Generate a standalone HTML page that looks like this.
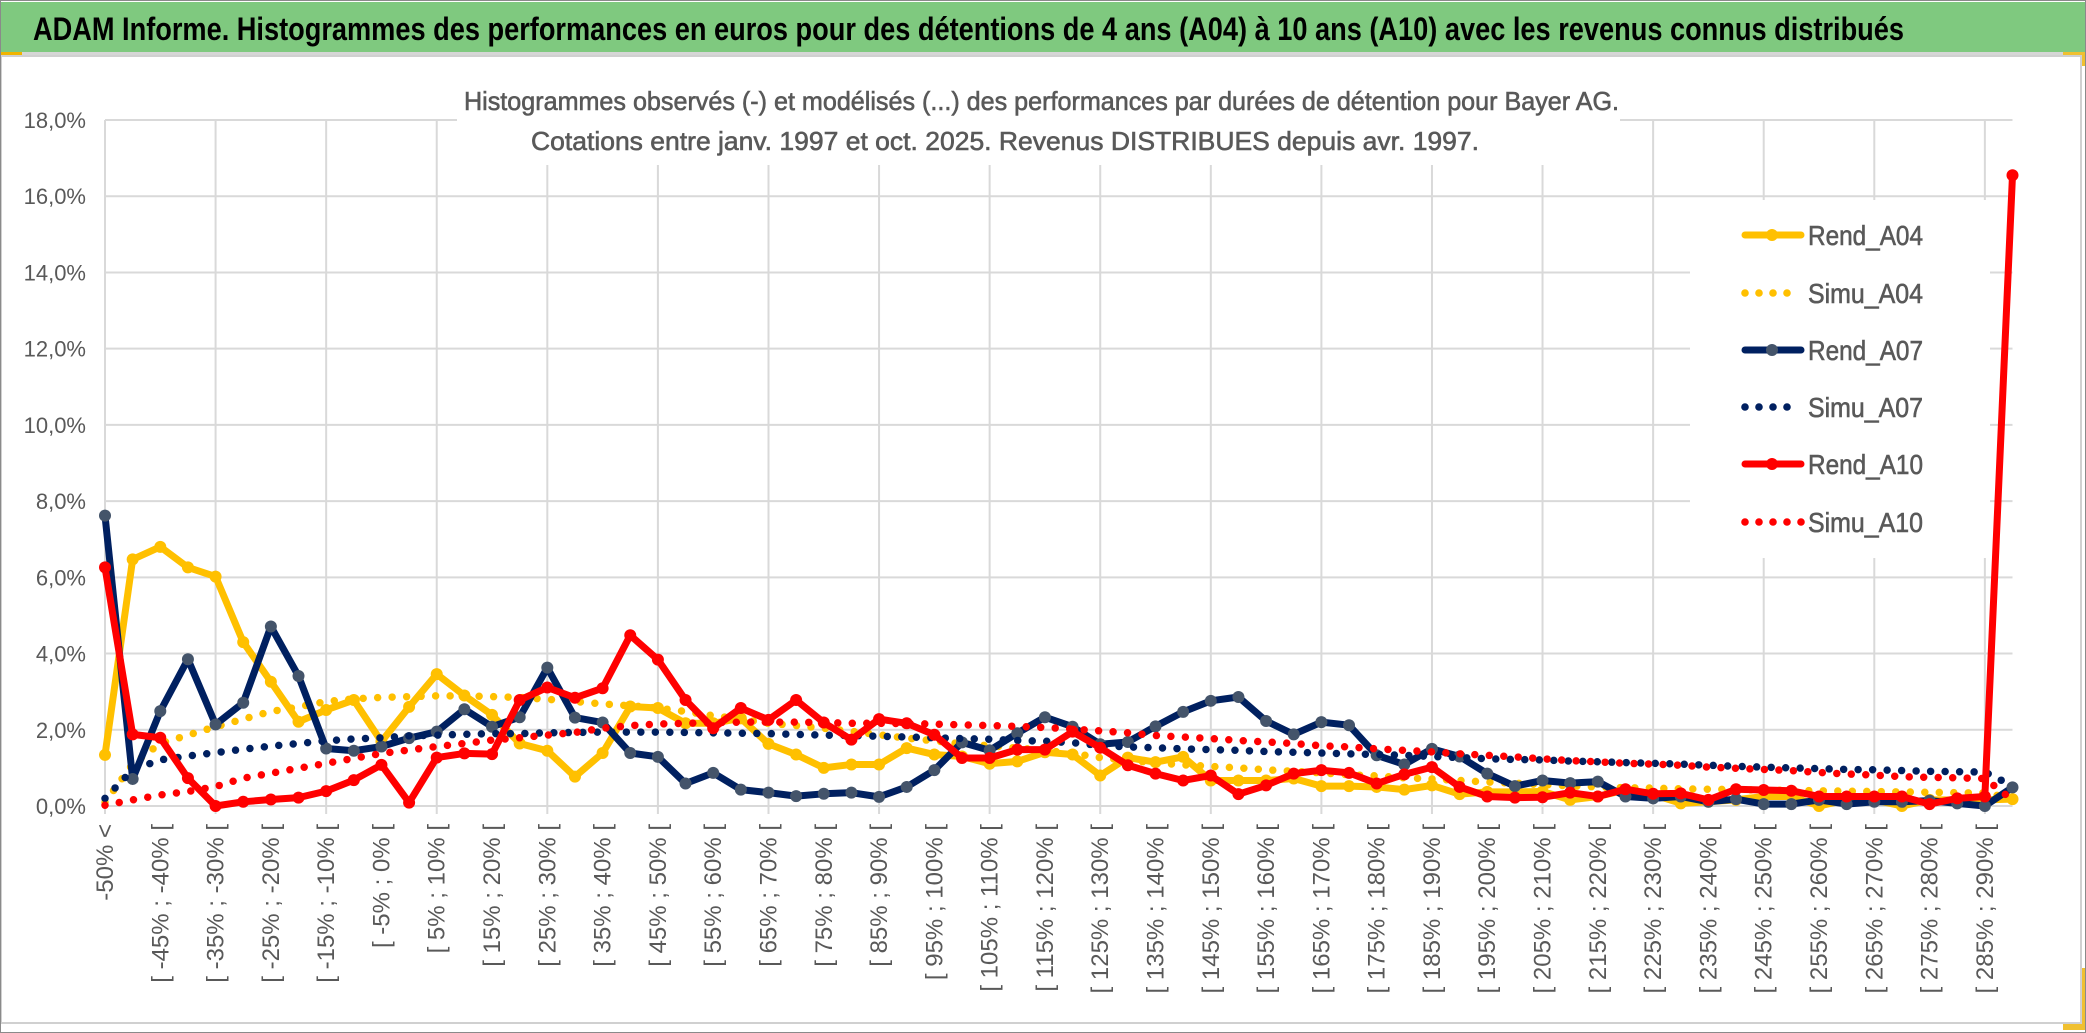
<!DOCTYPE html>
<html><head><meta charset="utf-8"><style>
html,body{margin:0;padding:0;background:#fff;}
svg{display:block;}
text{font-family:"Liberation Sans",sans-serif;}
</style></head><body>
<svg id="chart" width="2086" height="1033" viewBox="0 0 2086 1033" xmlns="http://www.w3.org/2000/svg">
<rect x="0" y="0" width="2086" height="1033" fill="#fff"/>
<rect x="1" y="2" width="2084" height="50" fill="#7fc97f"/>
<rect x="0" y="52" width="2086" height="4" fill="#d6d6d6"/>
<rect x="0" y="52" width="22" height="4" fill="#f0b400"/>
<rect x="2063" y="52" width="22" height="14" fill="#f0c030"/>
<rect x="2063" y="968" width="22" height="62" fill="#f0c030"/>
<rect x="1" y="56" width="2080" height="967" fill="#fff" stroke="#d0d0d0" stroke-width="2"/>
<rect x="0.5" y="0.5" width="2085" height="1032" fill="none" stroke="#8a8a8a" stroke-width="1"/>
<text x="33" y="40" font-size="32" font-weight="bold" fill="#000" textLength="1871" lengthAdjust="spacingAndGlyphs">ADAM Informe. Histogrammes des performances en euros pour des détentions de 4 ans (A04) à 10 ans (A10) avec les revenus connus distribués</text>
<g id="grid"></g>
<rect x="457" y="60" width="1163" height="105" fill="#fff"/>
<text x="464" y="110" font-size="26" fill="#595959" stroke="#595959" stroke-width="0.6" textLength="1155" lengthAdjust="spacingAndGlyphs">Histogrammes observés (-) et modélisés (...) des performances par durées de détention pour Bayer AG.</text>
<text x="531" y="150" font-size="26" fill="#595959" stroke="#595959" stroke-width="0.6" textLength="948" lengthAdjust="spacingAndGlyphs">Cotations entre janv. 1997 et oct. 2025. Revenus DISTRIBUES depuis avr. 1997.</text>
<g id="yaxis"></g>
<g id="xaxis"></g>
<rect x="1690" y="200" width="300" height="358" fill="#fff"/>
<g id="series"></g>
<g id="legend"></g>
</svg>
<script>
const yTicks = [0,2,4,6,8,10,12,14,16,18];
const yTickLabels = ["0,0%","2,0%","4,0%","6,0%","8,0%","10,0%","12,0%","14,0%","16,0%","18,0%"];
const categories = ["-50% <"];
for (let k = 1; k < 70; k++) categories.push("[ " + (-55 + 5*k) + "% ; " + (-50 + 5*k) + "% [");
const rendA04 = [1.34,6.47,6.8,6.26,6.02,4.3,3.26,2.21,2.52,2.78,1.69,2.6,3.46,2.9,2.39,1.64,1.45,0.77,
1.39,2.61,2.57,2.17,2.17,2.3,1.63,1.35,1.0,1.09,1.09,1.52,1.35,1.3,1.11,1.17,1.41,1.35,
0.8,1.27,1.15,1.29,0.67,0.67,0.67,0.72,0.52,0.52,0.5,0.43,0.54,0.31,0.37,0.37,0.38,
0.16,0.25,0.42,0.3,0.07,0.11,0.16,0.25,0.25,0,0.16,0.16,0,0.16,0.16,0.16,0.18];
const simuA04 = [0.1,1.1,1.64,1.86,2.08,2.28,2.48,2.6,2.74,2.81,2.85,2.87,2.89,2.89,2.87,2.85,2.8,2.74,
2.68,2.63,2.57,2.48,2.37,2.28,2.17,2.11,2.04,1.96,1.87,1.78,1.71,1.63,1.58,1.52,1.46,1.38,
1.27,1.2,1.13,1.08,1.04,1.0,0.95,0.91,0.87,0.82,0.79,0.74,0.71,0.67,0.63,0.6,0.56,
0.53,0.5,0.48,0.47,0.45,0.44,0.43,0.42,0.41,0.4,0.39,0.38,0.37,0.36,0.35,0.34,0.2];
const rendA07 = [7.62,0.71,2.49,3.85,2.14,2.71,4.71,3.41,1.51,1.45,1.56,1.78,1.95,2.54,2.08,2.33,3.63,2.32,
2.19,1.39,1.29,0.59,0.87,0.43,0.35,0.26,0.32,0.35,0.24,0.5,0.94,1.67,1.46,1.91,2.33,2.08,
1.62,1.68,2.09,2.47,2.76,2.86,2.23,1.88,2.2,2.12,1.33,1.09,1.5,1.3,0.85,0.52,0.67,
0.6,0.64,0.25,0.2,0.25,0.11,0.18,0.05,0.05,0.16,0.05,0.11,0.11,0.14,0.07,0.0,0.49];
const simuA07 = [0.2,0.95,1.21,1.31,1.4,1.49,1.57,1.64,1.71,1.76,1.79,1.84,1.86,1.88,1.9,1.9,1.92,1.93,
1.94,1.94,1.94,1.93,1.92,1.91,1.9,1.88,1.86,1.85,1.83,1.81,1.79,1.77,1.75,1.72,1.7,1.66,
1.59,1.55,1.53,1.5,1.48,1.46,1.43,1.41,1.39,1.37,1.35,1.33,1.3,1.27,1.24,1.22,1.21,
1.18,1.16,1.14,1.12,1.1,1.07,1.04,1.02,1.0,0.98,0.96,0.95,0.93,0.91,0.9,0.89,0.53];
const rendA10 = [6.26,1.88,1.79,0.73,0.0,0.11,0.17,0.22,0.39,0.68,1.08,0.09,1.27,1.38,1.36,2.78,3.11,2.84,
3.09,4.48,3.84,2.78,2.04,2.57,2.26,2.78,2.19,1.74,2.28,2.17,1.87,1.26,1.26,1.48,1.48,1.95,
1.53,1.07,0.85,0.67,0.8,0.31,0.54,0.85,0.94,0.87,0.59,0.83,1.02,0.5,0.25,0.22,0.23,
0.35,0.25,0.44,0.32,0.33,0.16,0.44,0.42,0.4,0.25,0.25,0.25,0.25,0.05,0.2,0.25,16.55];
const simuA10 = [0.02,0.16,0.29,0.38,0.51,0.73,0.86,0.99,1.12,1.25,1.38,1.47,1.56,1.64,1.73,1.79,1.86,1.93,
2.04,2.11,2.15,2.17,2.19,2.2,2.2,2.2,2.19,2.17,2.17,2.16,2.15,2.13,2.11,2.09,2.06,2.02,
1.97,1.92,1.85,1.81,1.77,1.72,1.68,1.64,1.58,1.55,1.5,1.46,1.42,1.37,1.33,1.29,1.24,
1.19,1.16,1.12,1.1,1.07,1.02,0.99,0.96,0.93,0.88,0.84,0.81,0.77,0.75,0.74,0.72,0.16];
const seriesNames = ["Rend_A04","Simu_A04","Rend_A07","Simu_A07","Rend_A10","Simu_A10"];

const NS = "http://www.w3.org/2000/svg";
const X0 = 105, X1 = 2012.5, Y0 = 806, Y1 = 120;
function xPos(i){ return X0 + i * (X1 - X0) / (categories.length - 1); }
function yPos(v){ return Y0 - v * (Y0 - Y1) / 18; }
function mk(tag, attrs, parent){ const e = document.createElementNS(NS, tag); for (const k in attrs) e.setAttribute(k, attrs[k]); parent.appendChild(e); return e; }

const grid = document.getElementById('grid');
yTicks.forEach(v => {
  const l = mk('line', {x1:X0, x2:X1, y1:yPos(v), y2:yPos(v), stroke:'#d9d9d9', 'stroke-width':2}, grid);
  
  
});
for (let i = 0; i < categories.length; i += 4) {
  const l = mk('line', {x1:xPos(i), x2:xPos(i), y1:Y1, y2:Y0+8, stroke:'#d9d9d9', 'stroke-width':2}, grid);
  
  
}
const yaxis = document.getElementById('yaxis');
yTicks.forEach((v, i) => {
  const t = mk('text', {x:86, y:yPos(v)+8, 'font-size':22, fill:'#595959', 'text-anchor':'end'}, yaxis);
  
  
  t.textContent = yTickLabels[i];
});
const xaxis = document.getElementById('xaxis');
categories.forEach((c, i) => {
  if (i % 2) return;
  const x = xPos(i) + 8, y = 824;
  const t = mk('text', {x:x, y:y, 'font-size':24, fill:'#595959', 'text-anchor':'end', transform:'rotate(-90 '+x+' '+y+')'}, xaxis);
  
  
  t.textContent = c;
});

const sg = document.getElementById('series');
function solid(vals, color, mcolor, name){
  const g = mk('g', {}, sg);
  
  
  const pl = mk('polyline', {points: vals.map((v,i)=>xPos(i)+','+yPos(v)).join(' '), fill:'none', stroke:color, 'stroke-width':7, 'stroke-linejoin':'round', 'stroke-linecap':'round'}, g);
  
  
  vals.forEach((v,i) => {
    const c = mk('circle', {cx:xPos(i), cy:yPos(v), r:6, fill:mcolor}, g);
    
    
  });
}
function dotted(vals, color, name){
  const pl = mk('polyline', {points: vals.map((v,i)=>xPos(i)+','+yPos(v)).join(' '), fill:'none', stroke:color, 'stroke-width':7.5, 'stroke-dasharray':'0 14.5', 'stroke-linecap':'round', 'stroke-linejoin':'round'}, sg);
  
  
}
solid(rendA04, '#FFC000', '#FFC000', 'rend-a04');
dotted(simuA04, '#FFC000', 'simu-a04');
solid(rendA07, '#002060', '#44546A', 'rend-a07');
dotted(simuA07, '#002060', 'simu-a07');
solid(rendA10, '#FF0000', '#FF0000', 'rend-a10');
dotted(simuA10, '#FF0000', 'simu-a10');

const lg = document.getElementById('legend');
const legColors = ['#FFC000','#FFC000','#002060','#002060','#FF0000','#FF0000'];
const legMarkers = ['#FFC000',null,'#44546A',null,'#FF0000',null];
const legY = [235,293,350,407,464,522];
seriesNames.forEach((n, i) => {
  const g = mk('g', {}, lg);
  
  
  const y = legY[i];
  if (legMarkers[i]) {
    mk('line', {x1:1745, x2:1801, y1:y, y2:y, stroke:legColors[i], 'stroke-width':7, 'stroke-linecap':'round'}, g);
    mk('circle', {cx:1772, cy:y, r:6, fill:legMarkers[i]}, g);
  } else {
    const n2 = (i === 5) ? 5 : 4;
    for (let d = 0; d < n2; d++) mk('circle', {cx:1745 + d*14, cy:y, r:3.8, fill:legColors[i]}, g);
  }
  const t = mk('text', {x:1808, y:y+10, 'font-size':28, fill:'#595959', stroke:'#595959', 'stroke-width':0.6, textLength:115, lengthAdjust:'spacingAndGlyphs'}, g);
  
  
  t.textContent = n;
});
</script>
</body></html>
